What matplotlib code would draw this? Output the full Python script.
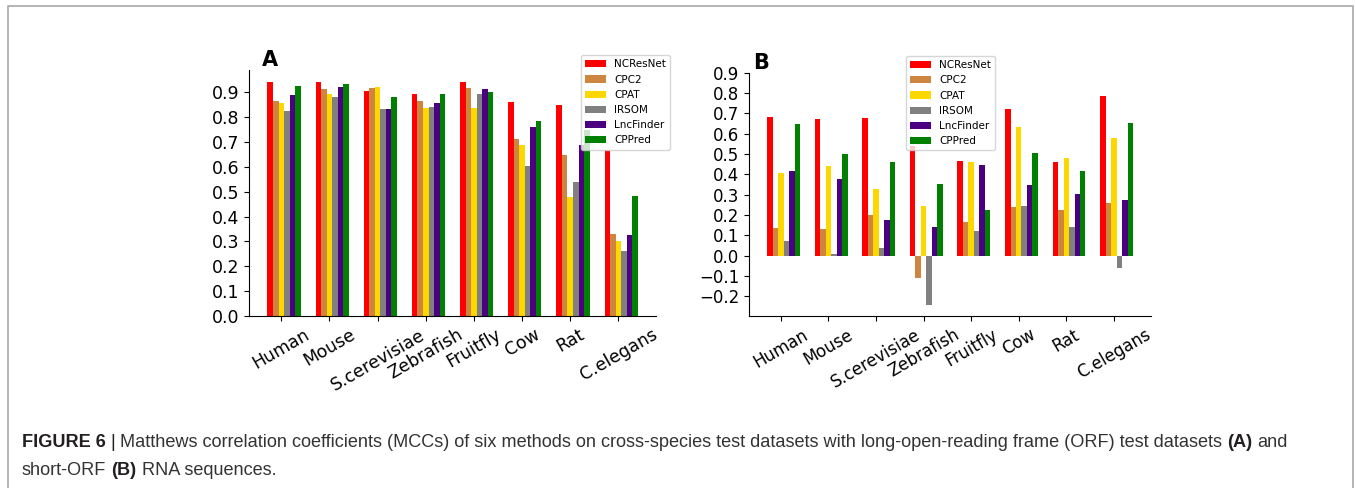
import numpy as np
import matplotlib
matplotlib.use('Agg')
import matplotlib.pyplot as plt
from matplotlib.lines import Line2D

species = ['Human', 'Mouse', 'S.cerevisiae', 'Zebrafish', 'Fruitfly', 'Cow', 'Rat', 'C.elegans']
methods = ['NCResNet', 'CPC2', 'CPAT', 'IRSOM', 'LncFinder', 'CPPred']
colors = ['red', 'peru', 'gold', 'gray', 'indigo', 'green']

# long-ORF (A)
ncresnet_a = [0.940, 0.942, 0.905, 0.895, 0.942, 0.860, 0.850, 0.670]
cpc2_a = [0.864, 0.913, 0.918, 0.865, 0.919, 0.711, 0.649, 0.329]
cpat_a = [0.856, 0.895, 0.923, 0.837, 0.837, 0.689, 0.477, 0.302]
irsom_a = [0.826, 0.881, 0.832, 0.841, 0.892, 0.604, 0.540, 0.263]
lncfinder_a = [0.888, 0.923, 0.832, 0.857, 0.913, 0.760, 0.688, 0.326]
cppred_a = [0.926, 0.934, 0.883, 0.895, 0.901, 0.786, 0.747, 0.481]

# short-ORF (B)
ncresnet_b = [0.683, 0.672, 0.675, 0.540, 0.468, 0.722, 0.461, 0.784]
cpc2_b = [0.135, 0.129, 0.200, -0.108, 0.166, 0.240, 0.227, 0.261]
cpat_b = [0.409, 0.443, 0.329, 0.245, 0.463, 0.633, 0.481, 0.577]
irsom_b = [0.072, 0.008, 0.036, -0.243, 0.121, 0.246, 0.143, -0.059]
lncfinder_b = [0.416, 0.375, 0.174, 0.142, 0.447, 0.346, 0.305, 0.274]
cppred_b = [0.649, 0.502, 0.463, 0.354, 0.223, 0.505, 0.417, 0.651]

data_a = [ncresnet_a, cpc2_a, cpat_a, irsom_a, lncfinder_a, cppred_a]
data_b = [ncresnet_b, cpc2_b, cpat_b, irsom_b, lncfinder_b, cppred_b]

fig = plt.figure(figsize=(13.56, 4.88), dpi=100)
W, H = 1356, 488

def px_axes(x0, x1, ytop, ybot):
    return fig.add_axes([x0 / W, 1 - ybot / H, (x1 - x0) / W, (ybot - ytop) / H])

axA = px_axes(249, 656, 70, 316)
axB = px_axes(749, 1151, 72.7, 316)

x = np.arange(len(species))
w = 0.115

def draw(ax, data, yticks, ylim, fs, letter, letter_x, leg_anchor):
    for i, vals in enumerate(data):
        ax.bar(x + (i - 2) * w, vals, w, color=colors[i], label=methods[i])
    ax.set_xticks(x)
    ax.set_xticklabels(species, rotation=30, fontsize=fs)
    ax.set_yticks(yticks)
    ax.set_yticklabels(['%.1f' % v if v >= 0 else '\u22120.%d' % round(-v * 10) for v in yticks], fontsize=fs)
    ax.set_ylim(*ylim)
    ax.set_xlim(-0.67, 7.78)
    ax.spines['top'].set_visible(False)
    ax.spines['right'].set_visible(False)
    ax.text(letter_x, 1.0, letter, transform=ax.transAxes, fontsize=15, fontweight='bold', va='bottom')
    ax.legend(loc='upper right', bbox_to_anchor=leg_anchor, fontsize=7.5)

draw(axA, data_a, np.arange(0, 1.0, 0.1), (0, 0.99), 12.5, 'A', 0.032, (1.047, 1.081))
draw(axB, data_b, np.round(np.arange(-0.2, 0.95, 0.1), 1), (-0.2965, 0.9), 12, 'B', 0.01, (0.626, 1.09))

# frame around the figure panel
fig.add_artist(Line2D([8 / W, 8 / W, 1353 / W, 1353 / W], [0, 1 - 6 / H, 1 - 6 / H, 0],
                      transform=fig.transFigure, color='#a8a8a8', lw=1.2))

# caption
cap_font = ['Liberation Sans', 'DejaVu Sans']
cap_fs = 13.1
line1 = [('FIGURE 6', 'bold', '#231f20'), ('|', 'normal', '#231f20'),
         ('Matthews correlation coefficients (MCCs) of six methods on cross-species test datasets with long-open-reading frame (ORF) test datasets', 'normal', '#333333'),
         ('(A)', 'bold', '#231f20'), ('and', 'normal', '#333333')]
line2 = [('short-ORF', 'normal', '#333333'), ('(B)', 'bold', '#231f20'), ('RNA sequences.', 'normal', '#333333')]

renderer = fig.canvas.get_renderer()
def tw(s, weight='normal'):
    t = fig.text(0, 0, s, fontsize=cap_fs, family=cap_font, fontweight=weight)
    wd = t.get_window_extent(renderer).width
    t.remove()
    return wd
space = tw('a a') - tw('aa')

def put_line(pieces, xpx, ypx):
    cur = xpx
    for s, weight, col in pieces:
        t = fig.text(cur / W, 1 - ypx / H, s, fontsize=cap_fs, family=cap_font,
                     fontweight=weight, color=col, va='baseline')
        cur += t.get_window_extent(renderer).width + space

put_line(line1, 22, 447)
put_line(line2, 22, 475)

fig.savefig('out.png', dpi=100)
